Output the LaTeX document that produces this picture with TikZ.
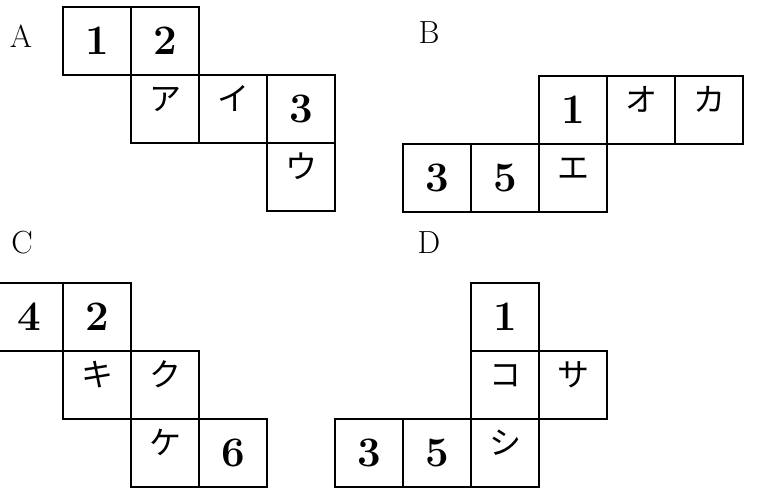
\documentclass[tikz,border=0pt]{standalone}
\usepackage{fontspec}
\usepackage{tikz}
\usetikzlibrary{positioning}
\newfontfamily\jpfont{Noto Sans CJK JP}

\begin{document}
\begin{tikzpicture}[
    x=0.5pt, y=-0.5pt,
    node distance=0pt,
    cell/.style={rectangle, draw, line width=1pt, minimum size=34pt, inner sep=0pt, outer sep=0pt},
    num/.style={cell, font=\fontsize{21}{23}\selectfont\bfseries},
    kana/.style={cell, font=\fontsize{16}{18}\selectfont\jpfont, text height=14pt, text depth=12pt},
    tag/.style={font=\fontsize{16}{18}\selectfont, inner sep=0pt}
]
\useasboundingbox (0,0) rectangle (766,491);
\clip (0,0) rectangle (766,491);

% net A
\node[tag] (labA) at (21,36) {A};
\node[num] (a1) at (97,41) {1};
\node[num, right=of a1] (a2) {2};
\node[kana, below=of a2] (aA) {ア};
\node[kana, right=of aA] (aI) {イ};
\node[num, right=of aI] (a3) {3};
\node[kana, below=of a3] (aU) {ウ};

% net B
\node[tag] (labB) at (429,33) {B};
\node[num] (b1) at (573,110) {1};
\node[kana, right=of b1] (bO) {オ};
\node[kana, right=of bO] (bKa) {カ};
\node[kana, below=of b1] (bE) {エ};
\node[num, left=of bE] (b5) {5};
\node[num, left=of b5] (b3) {3};

% net C
\node[tag] (labC) at (22,243) {C};
\node[num] (c4) at (29,317) {4};
\node[num, right=of c4] (c2) {2};
\node[kana, below=of c2] (cKi) {キ};
\node[kana, right=of cKi] (cKu) {ク};
\node[kana, below=of cKu] (cKe) {ケ};
\node[num, right=of cKe] (c6) {6};

% net D
\node[tag] (labD) at (429,243) {D};
\node[num] (d1) at (505,317) {1};
\node[kana, below=of d1] (dKo) {コ};
\node[kana, right=of dKo] (dSa) {サ};
\node[kana, below=of dKo] (dShi) {シ};
\node[num, left=of dShi] (d5) {5};
\node[num, left=of d5] (d3) {3};
\end{tikzpicture}
\end{document}
